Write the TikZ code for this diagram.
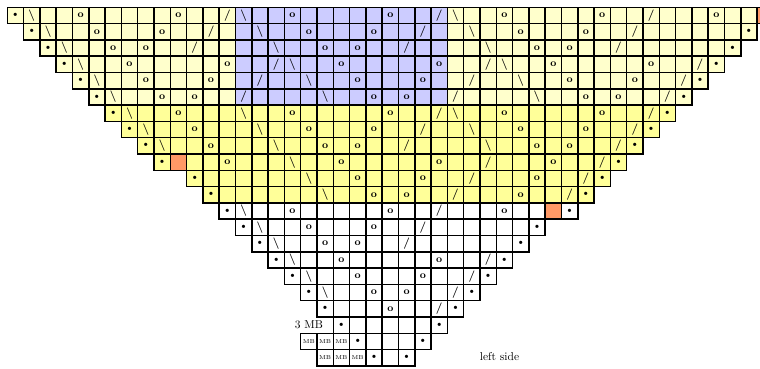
\documentclass[tikz,border=0pt]{standalone}
\usepackage{tikz}
\usetikzlibrary{calc}
\definecolor{paleyellow}{RGB}{255,255,204}
\definecolor{midyellow}{RGB}{255,255,153}
\definecolor{lacelilac}{RGB}{204,204,255}
\definecolor{nostitch}{RGB}{255,153,102}

%% row / first column / last column / tint
\newcommand{\chartrows}{0/0/46/paleyellow, 1/1/45/paleyellow, 2/2/44/paleyellow,
  3/3/43/paleyellow, 4/4/42/paleyellow, 5/5/41/paleyellow,
  6/6/40/midyellow, 7/7/39/midyellow, 8/8/38/midyellow, 9/9/37/midyellow,
  10/11/36/midyellow, 11/12/35/midyellow,
  12/13/34/white, 13/14/32/white, 14/15/31/white, 15/16/30/white,
  16/17/29/white, 17/18/28/white, 18/19/27/white, 19/20/26/white,
  20/18/25/white, 21/19/24/white}

\begin{document}
\begin{tikzpicture}[
  x=0.5cm, y=0.5cm,
  cell/.style={draw=black, line width=1.3pt},
  sym/.style={inner sep=0pt, font=\normalsize},
  lean/.style={sym, font=\normalsize\bfseries},
  yo/.style={sym, font=\small\bfseries},
  mb/.style={sym, font=\fontsize{5}{6}\selectfont},
  every node/.style={font=\normalsize}
]
  \useasboundingbox (-0.448,0.448) rectangle (46.18,-22.19);
  \clip (-0.448,0.448) rectangle (46.18,-22.19);

  %% -- Row backgrounds
  \foreach \r/\a/\b/\tint in \chartrows {
    \fill[\tint] (\a,-\r) rectangle (\b+1,-\r-1);
  }
  \fill[lacelilac] (14,0) rectangle (27,-6);
  \foreach \c/\r in {10/9, 33/12, 46/0}
    \fill[nostitch] (\c,-\r) rectangle ++(1,-1);

  %% -- Grid
  \foreach \r/\a/\b/\tint in \chartrows {
    \foreach \c in {\a,...,\b}
      \draw[cell] (\c,-\r) rectangle ++(1,-1);
  }

  %% -- Yarn overs
  \foreach \r/\cs in {0/{4,10,17,23,30,36,43}, 1/{5,9,18,22,31,35},
      2/{6,8,19,21,32,34}, 3/{7,13,20,26,33,39}, 4/{8,12,21,25,34,38},
      5/{9,11,22,24,35,37}, 6/{10,17,23,30,36}, 7/{11,18,22,31,35},
      8/{12,19,21,32,34}, 9/{13,20,26,33}, 10/{21,25,32}, 11/{22,24,31},
      12/{17,23,30}, 13/{18,22}, 14/{19,21}, 15/{20,26}, 16/{21,25},
      17/{22,24}, 18/{23}}
    \foreach \c in \cs
      \node[yo] (o-\r-\c) at (\c+0.5,-\r-0.5) {o};

  %% -- Left-leaning decreases
  \foreach \r/\cs in {0/{1,14,27}, 1/{2,15,28}, 2/{3,16,29}, 3/{4,17,30},
      4/{5,18,31}, 5/{6,19,32}, 6/{7,14,27}, 7/{8,15,28}, 8/{9,16,29},
      9/{17}, 10/{18}, 11/{19}, 12/{14}, 13/{15}, 14/{16}, 15/{17},
      16/{18}, 17/{19}}
    \foreach \c in \cs
      \node[lean] (ssk-\r-\c) at (\c+0.5,-\r-0.5) {\textbackslash};

  %% -- Right-leaning decreases
  \foreach \r/\cs in {0/{13,26,39}, 1/{12,25,38}, 2/{11,24,37}, 3/{16,29,42},
      4/{15,28,41}, 5/{14,27,40}, 6/{26,39}, 7/{25,38}, 8/{24,37},
      9/{29,36}, 10/{28,35}, 11/{27,34}, 12/{26}, 13/{25}, 14/{24},
      15/{29}, 16/{28}, 17/{27}, 18/{26}}
    \foreach \c in \cs
      \node[lean] (k2t-\r-\c) at (\c+0.5,-\r-0.5) {/};

  %% -- Edge stitches
  \foreach \r/\cs in {0/{0}, 1/{1,45}, 2/{2,44}, 3/{3,43}, 4/{4,42},
      5/{5,41}, 6/{6,40}, 7/{7,39}, 8/{8,38}, 9/{9,37}, 10/{11,36},
      11/{12,35}, 12/{13,34}, 13/{14,32}, 14/{15,31}, 15/{16,30},
      16/{17,29}, 17/{18,28}, 18/{19,27}, 19/{20,26}, 20/{21,25},
      21/{22,24}}
    \foreach \c in \cs
      \node[sym] (dot-\r-\c) at (\c+0.5,-\r-0.5) {\textbullet};

  %% -- Bobbles
  \foreach \r/\c in {20/18, 20/19, 20/20, 21/19, 21/20, 21/21}
    \node[mb] (mb-\r-\c) at (\c+0.5,-\r-0.5) {MB};

  %% Labels
  \node (threemb)  at (18.5,-19.5)  {3 MB};
  \node (leftside) at (30.2,-21.45) {left side};

\end{tikzpicture}
\end{document}
